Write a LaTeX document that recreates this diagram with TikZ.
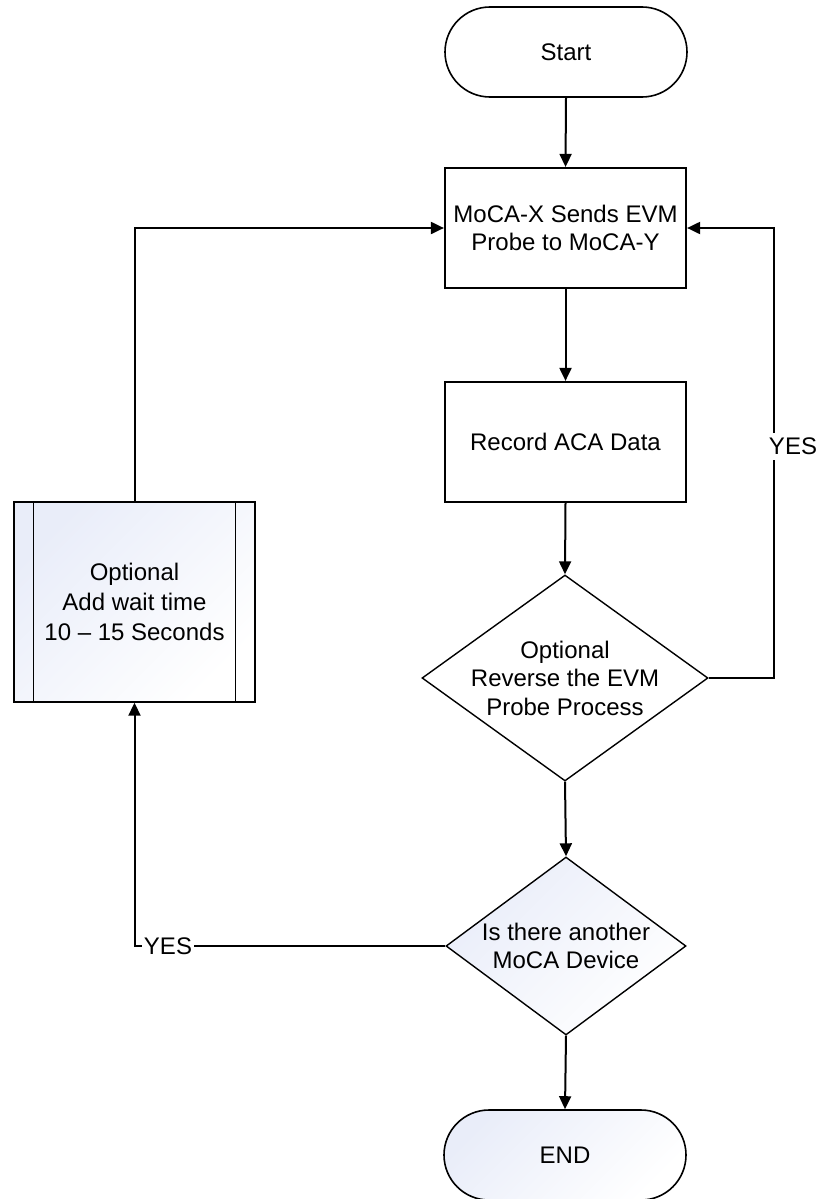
\documentclass[tikz,border=0pt]{standalone}
\usepackage{fontspec}
\setmainfont{Liberation Sans}
\usetikzlibrary{shapes.geometric,shapes.misc,arrows.meta}
\definecolor{grad}{RGB}{233,237,249}
\begin{document}
\begin{tikzpicture}[x=1pt,y=-1pt,
  every node/.style={font=\fontsize{24}{28.5}\selectfont, align=center},
  conn/.style={line width=2pt, -{Triangle[length=13pt,width=12pt]}},
  term/.style={rounded rectangle, draw, line width=1.6pt, minimum width=242pt, minimum height=90pt, inner sep=0pt},
  proc/.style={rectangle, draw, line width=2.2pt, minimum width=241pt, minimum height=120pt, fill=white},
  dec/.style={diamond, draw, line width=1.4pt, inner sep=0pt},
  shadedfill/.style={top color=grad, bottom color=white, shading angle=45},
  lbl/.style={fill=white, inner xsep=2pt, inner ysep=5pt}
]
\useasboundingbox (0,0) rectangle (820,1199);

\node[term, fill=white] (start) at (566,52) {Start};
\node[proc] (box1) at (565.5,228) {MoCA-X Sends EVM\\Probe to MoCA-Y};
\node[proc] (box2) at (565.5,442) {Record ACA Data};
\node[dec, fill=white, minimum width=286pt, minimum height=206pt,
      label={[name=d1t]center:Optional\\Reverse the EVM\\Probe Process}] (d1) at (565,678) {};
\node[dec, shadedfill, minimum width=240pt, minimum height=178pt,
      label={[name=d2t]center:Is there another\\MoCA Device}] (d2) at (566,946) {};
\node[term, shadedfill] (end) at (565,1155) {END};
\node[rectangle, draw, line width=1.4pt, minimum width=241pt, minimum height=200pt, shadedfill,
      font=\fontsize{24}{30}\selectfont] (box3) at (134.5,602) {Optional\\Add wait time\\10 -- 15 Seconds};
\draw[line width=1.4pt] ([xshift=20pt]box3.north west) -- ([xshift=20pt]box3.south west);
\draw[line width=1.4pt] ([xshift=-20pt]box3.north east) -- ([xshift=-20pt]box3.south east);

\draw[conn] (start.south) -- (box1.north);
\draw[conn] (box1.south) -- (box2.north);
\draw[conn] (box2.south) -- (d1.north);
\draw[conn] (d1.south) -- (d2.north);
\draw[conn] (d2.south) -- (end.north);

\coordinate (r1) at (774,678);
\draw[conn] (d1.east) -- (r1) |- (box1.east);
\draw[conn] (d2.west) -| (box3.south);
\draw[conn] (box3.north) |- (box1.west);

\node[lbl] (yes1) at (793,446) {YES};
\node[lbl] (yes2) at (168,946) {YES};
\end{tikzpicture}
\end{document}
